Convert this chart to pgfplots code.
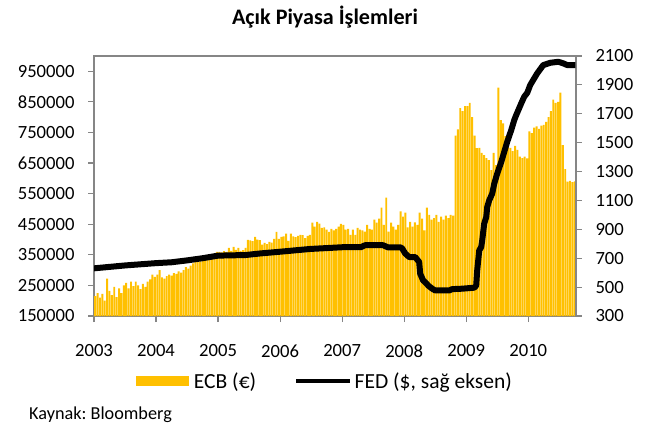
\documentclass[border=0pt]{standalone}
\usepackage{pgfplots}
\usepackage{pgfplotstable}
\pgfplotsset{compat=1.18}
\usepackage{fontspec}
\setmainfont{Carlito}
\frenchspacing
\definecolor{ecb}{RGB}{255,192,0}
\definecolor{axgray}{RGB}{134,134,134}

% ECB weekly-ish (biweekly) amounts, 2003 .. Oct 2010
\pgfplotstableread{
v
215000
225000
210000
222000
200000
272000
232000
218000
245000
212000
240000
225000
250000
258000
240000
262000
248000
262000
250000
238000
255000
245000
262000
270000
285000
278000
285000
300000
276000
272000
280000
285000
282000
290000
288000
296000
292000
300000
310000
305000
315000
322000
326000
330000
328000
335000
338000
342000
345000
350000
355000
360000
360000
358000
362000
360000
373000
363000
376000
366000
373000
363000
365000
373000
399000
397000
395000
409000
400000
398000
383000
389000
385000
392000
390000
402000
425000
402000
409000
410000
419000
396000
419000
410000
408000
412000
415000
414000
405000
412000
415000
455000
442000
458000
452000
438000
440000
432000
425000
435000
430000
435000
442000
451000
448000
432000
435000
415000
432000
415000
438000
432000
430000
426000
448000
435000
432000
465000
455000
468000
504000
448000
537000
426000
455000
442000
432000
448000
492000
475000
488000
440000
458000
442000
456000
448000
488000
468000
430000
504000
481000
465000
470000
481000
458000
475000
465000
478000
470000
481000
478000
740000
760000
830000
820000
836000
836000
847000
800000
740000
699000
700000
683000
676000
666000
660000
627000
683000
643000
897000
790000
780000
738000
706000
700000
689000
706000
693000
671000
666000
671000
665000
754000
748000
766000
770000
762000
772000
775000
785000
800000
820000
857000
847000
850000
880000
709000
630000
589000
592000
588000
590000
}\ecbtable

\begin{document}
\begin{tikzpicture}
\path[use as bounding box] (-94bp,-114bp) rectangle (552bp,316bp);
\begin{axis}[
  scale only axis, width=482bp, height=260bp,
  at={(0,0)}, anchor=south west,
  xmin=2003, xmax=2010.77,
  ymin=150000, ymax=1000000,
  xtick={2003,2004,2005,2006,2007,2008,2009,2010},
  xticklabels={2003,2004,2005,2006,2007,2008,2009,2010},
  ytick={150000,250000,350000,450000,550000,650000,750000,850000,950000},
  yticklabels={150000,250000,350000,450000,550000,650000,750000,850000,950000},
  scaled y ticks=false, scaled x ticks=false,
  y tick label style={font=\fontsize{18.7}{18.7}\selectfont, xshift=-10bp},
  x tick label style={font=\fontsize{18.7}{18.7}\selectfont, yshift=-19bp},
  tick pos=left, tick align=outside,
  axis line style={axgray, line width=1.5bp},
  major tick style={axgray, line width=1.2bp},
  major tick length=6bp,
]
\addplot[ybar, bar width=0.031, fill=ecb, draw=none]
  table[x expr=2003+(\coordindex+0.5)/26, y=v] {\ecbtable};
\end{axis}
\begin{axis}[
  scale only axis, width=482bp, height=260bp,
  at={(0,0)}, anchor=south west,
  xmin=2003, xmax=2010.77,
  ymin=300, ymax=2100,
  axis y line*=right, axis x line=none,
  xtick=\empty, scaled x ticks=false, scaled y ticks=false,
  ytick={300,500,700,900,1100,1300,1500,1700,1900,2100},
  yticklabels={300,500,700,900,1100,1300,1500,1700,1900,2100},
  y tick label style={font=\fontsize{18.7}{18.7}\selectfont, xshift=10bp},
  tick align=outside,
  axis line style={axgray, line width=1.5bp},
  major tick style={axgray, line width=1.2bp},
  major tick length=6bp,
  legend columns=2,
  legend style={draw=none, fill=none, at={(0.479,-0.25)}, anchor=center,
    font=\fontsize{21.6}{21.6}\selectfont,
    /tikz/every even column/.append style={column sep=36bp}},
]
\addlegendimage{legend image code/.code={\fill[ecb,draw=none] (0bp,-5bp) rectangle (53bp,5bp); \path[draw=none,fill=none] (0bp,0bp) -- (56bp,0bp);}}
\addlegendentry{ECB (€)}
\addplot[black, line width=6bp, line join=round,
  legend image code/.code={\draw[black,line width=4.5bp] (0bp,0bp) -- (54bp,0bp); \path[draw=none,fill=none] (0bp,0bp) -- (56bp,0bp);}]
  coordinates {
  (2003.0,630) (2003.25,640) (2003.5,650) (2003.75,658) (2004.0,666)
  (2004.25,672) (2004.5,685) (2004.75,700) (2005.0,718) (2005.44,722)
  (2005.68,733) (2006.0,745) (2006.48,764) (2007.0,776) (2007.3,776)
  (2007.37,790) (2007.66,790) (2007.74,775) (2007.94,775) (2007.968,768)
  (2008.016,733) (2008.081,708) (2008.177,708) (2008.242,674) (2008.258,593)
  (2008.306,546) (2008.339,534) (2008.387,511) (2008.452,489) (2008.5,477)
  (2008.726,477) (2008.774,486) (2008.935,489) (2009.129,496) (2009.161,511)
  (2009.177,615) (2009.210,754) (2009.242,777) (2009.258,824) (2009.290,939)
  (2009.323,985) (2009.339,1055) (2009.371,1101) (2009.419,1147) (2009.452,1216)
  (2009.5,1286) (2009.565,1367) (2009.613,1436) (2009.661,1506) (2009.726,1587)
  (2009.774,1656) (2009.806,1691) (2009.887,1772) (2009.935,1818) (2009.984,1845)
  (2010.032,1899) (2010.145,1980) (2010.242,2037) (2010.355,2053) (2010.484,2060)
  (2010.565,2049) (2010.629,2037) (2010.758,2037)
  };
\addlegendentry{FED (\$, sağ eksen)}
\end{axis}
\node[font=\bfseries\fontsize{22.2}{22.2}\selectfont] at (231bp,299bp) {Açık Piyasa İşlemleri};
\node[anchor=west, inner sep=0pt, font=\fontsize{18.3}{18.3}\selectfont] at (-65bp,-99bp) {Kaynak: Bloomberg};
\end{tikzpicture}
\end{document}
